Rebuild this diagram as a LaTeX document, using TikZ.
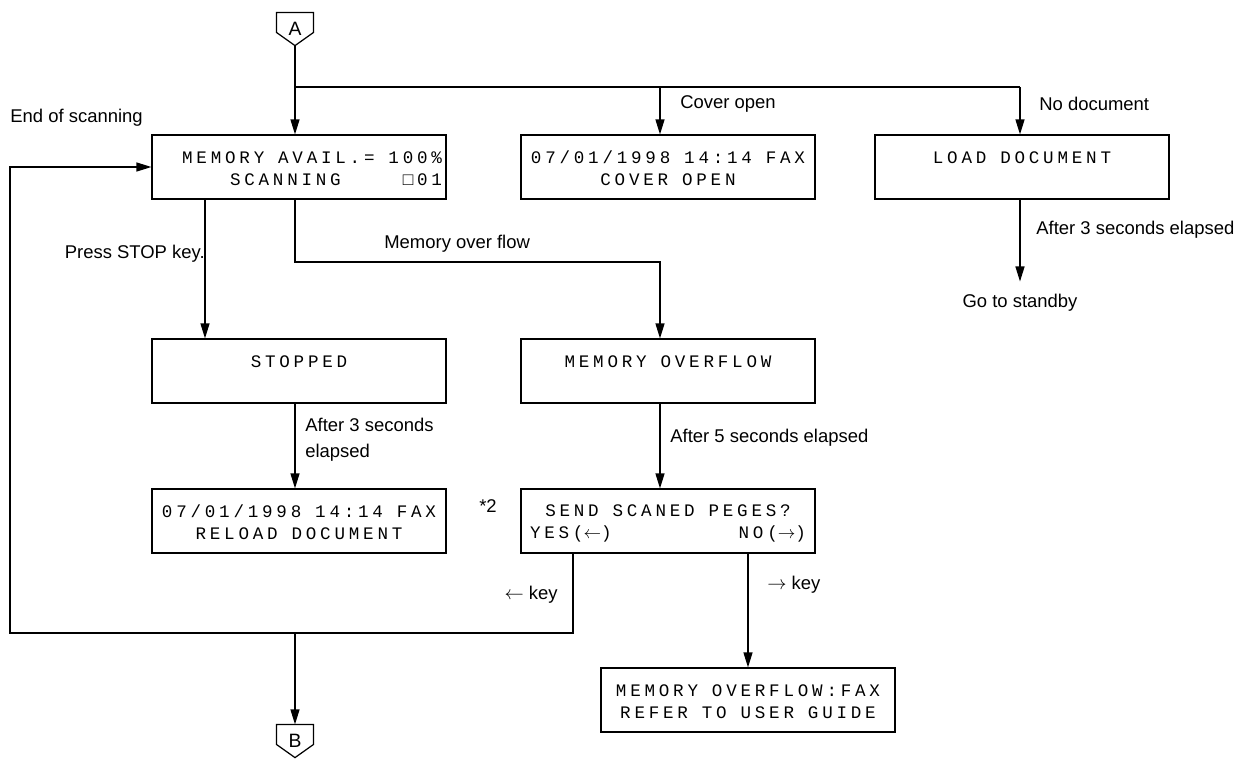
\documentclass[tikz,border=0pt]{standalone}
\usepackage{fontspec}
\setmainfont{Liberation Sans}
\newfontfamily\lcdfont{Liberation Mono}[LetterSpace=21.5]
\newcommand{\lsp}{\hspace{0.277cm}}
\usepackage{tikz}
\usetikzlibrary{arrows.meta, positioning, calc}

\begin{document}
\begin{tikzpicture}[
    x=0.02cm, y=-0.02cm,
    >={Triangle[length=3mm, width=1.8mm]},
    line width=0.7pt,
    lcdbox/.style={draw, rectangle, minimum width=5.88cm, minimum height=1.28cm,
                   inner xsep=0.08cm, text width=5.72cm, align=center,
                   font=\lcdfont\fontsize{10}{12.5}\selectfont},
    flowarrow/.style={->},
    note/.style={font=\fontsize{10.5}{13}\selectfont, inner sep=1pt},
    connector/.style={minimum width=0.72cm, minimum height=0.64cm,
                      inner sep=0pt, font=\fontsize{11}{13}\selectfont},
]
\useasboundingbox (0,0) rectangle (1249,761);

% ============================================================
% Connectors (off-page marks)
% ============================================================
\node[connector] (A) at (295,29) {A};
\draw (A.north west) -- (A.north east) -- ++(0,20) -- (A.south)
      -- ($(A.north west)+(0,20)$) -- cycle;
\node[connector] (B) at (295,741) {B};
\draw (B.north west) -- (B.north east) -- ++(0,20) -- (B.south)
      -- ($(B.north west)+(0,20)$) -- cycle;

% ============================================================
% Display boxes
% ============================================================
\node[lcdbox, align=right] (scan) at (299,167)
    {\rule{0pt}{9pt}MEMORY\lsp AVAIL.=\lsp 100\%\\SCANNING\hspace{1.24cm}□01};
\node[lcdbox] (cover)  at (668,167)  {\rule{0pt}{9pt}07/01/1998\lsp 14:14\lsp FAX\\COVER\lsp OPEN};
\node[lcdbox] (load)   at (1022,167) {\rule{0pt}{9pt}LOAD\lsp DOCUMENT\\\mbox{}};
\node[lcdbox] (stopped) at (299,371) {\rule{0pt}{9pt}STOPPED\\\mbox{}};
\node[lcdbox] (memovf) at (668,371)  {\rule{0pt}{9pt}MEMORY\lsp OVERFLOW\\\mbox{}};
\node[lcdbox] (reload) at (299,521)  {\rule{0pt}{9pt}07/01/1998\lsp 14:14\lsp FAX\\RELOAD\lsp DOCUMENT};
\node[lcdbox] (send)   at (668,521)
    {\rule{0pt}{9pt}SEND\lsp SCANED\lsp PEGES?\\\makebox[5.52cm]{YES($\leftarrow$)\hfill NO($\rightarrow$)}};
\node[lcdbox] (refer)  at (748,700)  {\rule{0pt}{9pt}MEMORY\lsp OVERFLOW:FAX\\REFER\lsp TO\lsp USER\lsp GUIDE};

\node[note, inner ysep=7pt] (standby) at (1020,303) {Go to standby};

% ============================================================
% Flow from A
% ============================================================
\coordinate (split)   at (295,87);
\coordinate (coverin) at (660,87);
\coordinate (loadin)  at (1020,87);
\draw[flowarrow] (A.south) -- (A.south |- scan.north);
\draw (split) -- (loadin);
\draw[flowarrow] (coverin) -- (coverin |- cover.north);
\draw[flowarrow] (loadin) -- (loadin |- load.north);
\draw[flowarrow] (standby |- load.south) -- (standby.north);

% ============================================================
% Scanning branches
% ============================================================
\coordinate (stopin)  at (205,262);
\coordinate (ovfturn) at (660,262);
\draw[flowarrow] (stopin |- scan.south) -- (stopin |- stopped.north);
\draw[flowarrow] (A.south |- scan.south) |- (ovfturn) -- (ovfturn |- memovf.north);
\draw[flowarrow] (A.south |- stopped.south) -- (A.south |- reload.north);
\draw[flowarrow] (ovfturn |- memovf.south) -- (ovfturn |- send.north);

% ============================================================
% Answer keys
% ============================================================
\coordinate (noout)      at (748,600);
\coordinate (yesout)     at (573,633);
\coordinate (backcorner) at (10,633);
\draw[flowarrow] (noout |- send.south) -- (refer.north);
\draw[flowarrow] (yesout |- send.south) -- (yesout) -- (backcorner) |- (scan.west);
\draw[flowarrow] (A.south |- yesout) -- (B.north);

% ============================================================
% Labels
% ============================================================
\node[note, anchor=west] at (678,104)  {Cover open};
\node[note, anchor=west] at (1037,104) {No document};
\node[note, anchor=west] at (8,118)    {End of scanning};
\node[note, anchor=east] at (207,254)  {Press STOP key.};
\node[note, anchor=west] at (382,244)  {Memory over flow};
\node[note, anchor=west] at (1034,230) {After 3 seconds elapsed};
\node[note, anchor=west, align=left] at (303,440) {After 3 seconds\\[2pt]elapsed};
\node[note, anchor=west] at (668,438)  {After 5 seconds elapsed};
\node[note] at (488,506) {*2};
\node[note, anchor=east] at (560,595)  {$\leftarrow$ key};
\node[note, anchor=west] at (765,585)  {$\rightarrow$ key};

\end{tikzpicture}
\end{document}
